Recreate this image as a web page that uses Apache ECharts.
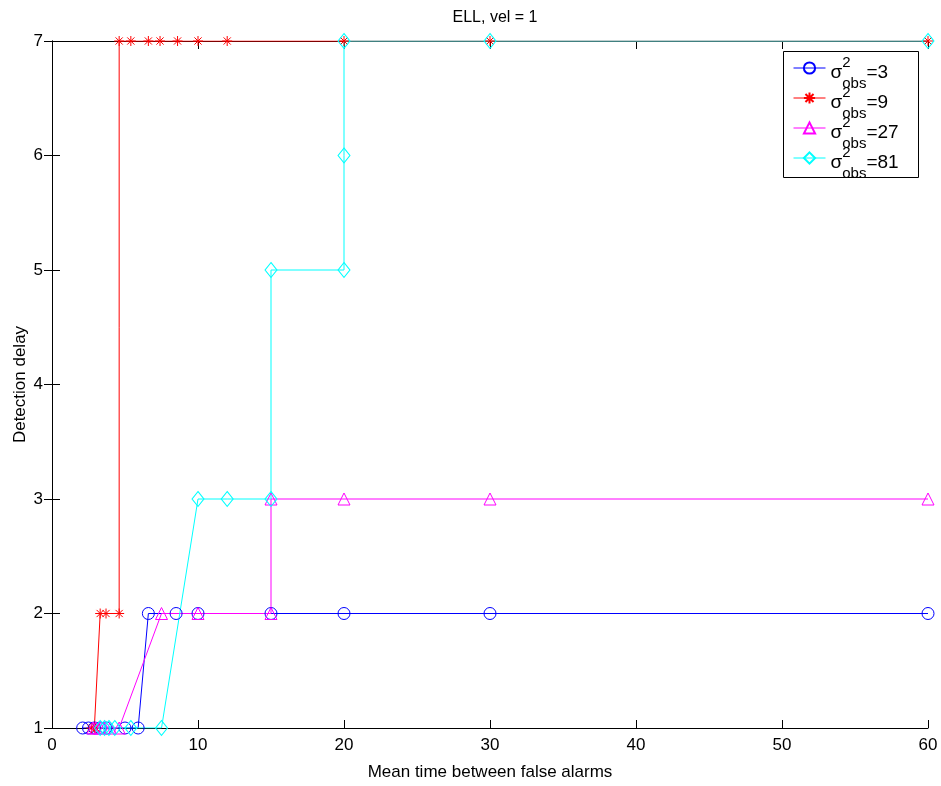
<!DOCTYPE html>
<html>
<head>
<meta charset="utf-8">
<script src="https://cdn.jsdelivr.net/npm/echarts@6/dist/echarts.min.js"></script>
<style>
  html, body { margin: 0; padding: 0; background: #fff; }
  #chart { width: 941px; height: 786px; }
</style>
</head>
<body>
<div id="chart"></div>
<script>
// Mean time between false alarms (x) and detection delay (y) for each observation noise level
const obs3X  = [2.1, 2.5, 2.9, 3.3, 3.7, 5.0, 5.9, 6.6, 8.5, 10, 15, 20, 30, 60];
const obs3Y  = [1, 1, 1, 1, 1, 1, 1, 2, 2, 2, 2, 2, 2, 2];

const obs9X  = [2.7, 2.9, 3.0, 3.3, 3.7, 4.6, 4.6, 5.4, 6.6, 7.4, 8.6, 10, 12, 20, 30, 60];
const obs9Y  = [1, 1, 1, 2, 2, 2, 7, 7, 7, 7, 7, 7, 7, 7, 7, 7];

const obs27X = [2.8, 3.0, 3.3, 3.6, 4.0, 4.6, 7.5, 10, 15, 15, 20, 30, 60];
const obs27Y = [1, 1, 1, 1, 1, 1, 2, 2, 2, 3, 3, 3, 3];

const obs81X = [3.3, 3.6, 3.9, 4.3, 5.4, 7.5, 10, 12, 15, 15, 20, 20, 20, 30, 60];
const obs81Y = [1, 1, 1, 1, 1, 1, 3, 3, 3, 5, 5, 6, 7, 7, 7];

const noiseLevels = ['3', '9', '27', '81'];
const xTicks = [0, 10, 20, 30, 40, 50, 60];
const yTicks = [1, 2, 3, 4, 5, 6, 7];

const FONT = 'Liberation Sans';

function pairs(xs, ys) { return xs.map((x, i) => [x, ys[i]]); }

const asterisk = 'path://M0,-5L0,5M-5,0L5,0M-3.6,-3.6L3.6,3.6M-3.6,3.6L3.6,-3.6';

function makeSeries(level, xs, ys, color, symbol, size) {
  return {
    name: level,
    type: 'line',
    data: pairs(xs, ys),
    symbol: symbol,
    symbolSize: size,
    showAllSymbol: true,
    lineStyle: { color: color, width: 1 },
    itemStyle: { color: 'rgba(255,255,255,0)', borderColor: color, borderWidth: 1 },
    emphasis: { disabled: true },
    z: 2
  };
}

const chart = echarts.init(document.getElementById('chart'), null, { renderer: 'canvas' });

const axisCommon = {
  type: 'value',
  axisLine: { show: true, lineStyle: { color: '#000', width: 1 } },
  axisTick: { show: true, inside: true, length: 8, lineStyle: { color: '#000', width: 1 } },
  splitLine: { show: false }
};

chart.setOption({
  animation: false,
  backgroundColor: '#fff',
  title: {
    text: 'ELL, vel = 1',
    left: 490,
    top: 5,
    textAlign: 'center',
    textStyle: { fontFamily: FONT, fontSize: 16, fontWeight: 'normal', color: '#000' }
  },
  grid: { left: 52, right: 13, top: 41, bottom: 55, containLabel: false },
  xAxis: [
    Object.assign({}, axisCommon, {
      min: xTicks[0], max: xTicks[xTicks.length - 1], interval: xTicks[1] - xTicks[0],
      position: 'bottom',
      name: 'Mean time between false alarms',
      nameLocation: 'middle',
      nameGap: 36,
      nameMoveOverlap: false,
      nameTextStyle: { fontFamily: FONT, fontSize: 17, color: '#000' },
      axisLabel: { fontFamily: FONT, fontSize: 17, color: '#000', margin: 9 }
    }),
    Object.assign({}, axisCommon, {
      min: xTicks[0], max: xTicks[xTicks.length - 1], interval: xTicks[1] - xTicks[0],
      position: 'top',
      axisLabel: { show: false }
    })
  ],
  yAxis: [
    Object.assign({}, axisCommon, {
      min: yTicks[0], max: yTicks[yTicks.length - 1], interval: 1,
      position: 'left',
      name: 'Detection delay',
      nameLocation: 'middle',
      nameGap: 32,
      nameRotate: 90,
      nameMoveOverlap: false,
      nameTextStyle: { fontFamily: FONT, fontSize: 17, color: '#000', verticalAlign: 'middle' },
      axisLabel: { fontFamily: FONT, fontSize: 17, color: '#000', margin: 9 }
    }),
    Object.assign({}, axisCommon, {
      min: yTicks[0], max: yTicks[yTicks.length - 1], interval: 1,
      position: 'right',
      axisLabel: { show: false }
    })
  ],
  legend: {
    orient: 'vertical',
    left: 793,
    top: 55,
    padding: 0,
    itemWidth: 32,
    itemHeight: 14,
    itemGap: -6,
    itemTextGap: 11,
    selectedMode: false,
    data: noiseLevels,
    lineStyle: { width: 1 },
    formatter: function (name) {
      return '{s|σ}{p|2}{b|obs}{t|=' + name + '}';
    },
    textStyle: {
      fontFamily: FONT,
      color: '#000',
      padding: [10, 0, 0, 0],
      rich: {
        s: { fontFamily: FONT, fontSize: 19, lineHeight: 36, verticalAlign: 'middle', color: '#000' },
        t: { fontFamily: FONT, fontSize: 19, lineHeight: 36, verticalAlign: 'middle', color: '#000' },
        p: { fontFamily: FONT, fontSize: 15, lineHeight: 12, verticalAlign: 'top', width: 0, color: '#000' },
        b: { fontFamily: FONT, fontSize: 15, lineHeight: 10, verticalAlign: 'bottom', color: '#000' }
      }
    },
    z: 10
  },
  graphic: [{
    type: 'rect',
    left: 783,
    top: 51,
    shape: { width: 135, height: 126 },
    style: { fill: '#fff', stroke: '#000', lineWidth: 1 },
    z: 9
  }],
  series: [
    makeSeries(noiseLevels[0], obs3X, obs3Y, '#0000ff', 'circle', 12),
    makeSeries(noiseLevels[1], obs9X, obs9Y, '#ff0000', asterisk, 10),
    makeSeries(noiseLevels[2], obs27X, obs27Y, '#ff00ff', 'triangle', 12),
    makeSeries(noiseLevels[3], obs81X, obs81Y, '#00ffff', 'diamond', [12, 15])
  ]
});
</script>
</body>
</html>
